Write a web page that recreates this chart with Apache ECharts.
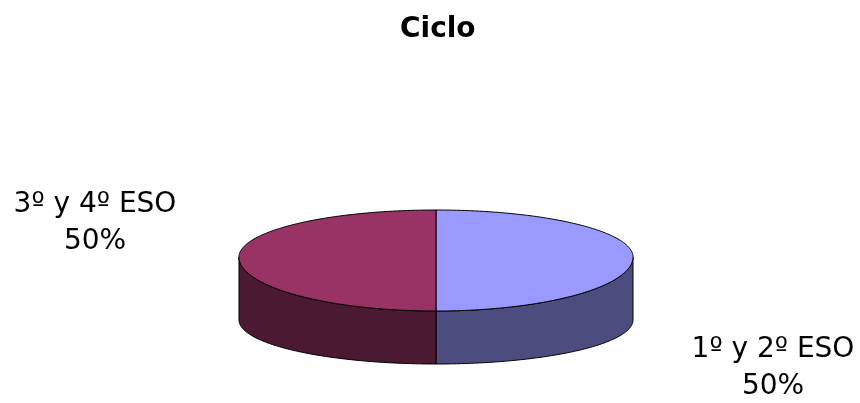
<!DOCTYPE html>
<html>
<head>
<meta charset="utf-8">
<script src="https://cdn.jsdelivr.net/npm/echarts@6/dist/echarts.min.js"></script>
<style>html,body{margin:0;padding:0;background:#fff}#c{width:860px;height:403px}</style>
</head>
<body>
<div id="c"></div>
<script>
// ---- data ----
const title = 'Ciclo';
const categories = ['1º y 2º ESO', '3º y 4º ESO'];
const values = [50, 50];

// ---- style ----
const topColors = ['#9999FF', '#993366'];
const sideColors = ['#4C4C7E', '#4C1933'];
const labelPos = [[773, 368], [95, 223]];
const FONT = 'DejaVu Sans';
const geo = { cx: 436, cyT: 257, rx: 197, ryBack: 47, ryFront: 54, cyB: 320, ryFrontB: 44 };

const total = values.reduce((a, b) => a + b, 0);
const starts = [];
values.reduce((acc, v) => { starts.push(acc); return acc + v; }, 0);

function topPt(t) {
  const c = Math.cos(t);
  return [geo.cx + geo.rx * Math.sin(t), geo.cyT - (c > 0 ? geo.ryBack : geo.ryFront) * c];
}
function botPt(t) {
  const c = Math.cos(t);
  return [geo.cx + geo.rx * Math.sin(t), geo.cyB - (c > 0 ? geo.ryBack : geo.ryFrontB) * c];
}
function arc(fn, a, b, n) {
  const pts = [];
  for (let k = 0; k <= n; k++) pts.push(fn(a + (b - a) * k / n));
  return pts;
}

const chart = echarts.init(document.getElementById('c'), null, { renderer: 'canvas' });
chart.setOption({
  backgroundColor: '#ffffff',
  animation: false,
  title: {
    text: title, left: 395, top: 11,
    textStyle: { fontFamily: FONT, fontSize: 28, fontWeight: 'bold', color: '#000' }
  },
  series: [{
    type: 'custom',
    coordinateSystem: 'none',
    data: values.map((v, i) => [v, i]),
    renderItem: function (params, api) {
      const i = params.dataIndex;
      const v = api.value(0);
      const a = starts[i] / total * Math.PI * 2;
      const b = a + v / total * Math.PI * 2;
      const children = [];
      // side face (front half only)
      const sa = Math.max(a, Math.PI / 2), sb = Math.min(b, Math.PI * 1.5);
      if (sb > sa) {
        const pts = arc(topPt, sa, sb, 120).concat(arc(botPt, sb, sa, 120));
        children.push({
          type: 'polygon', shape: { points: pts },
          style: { fill: sideColors[i], stroke: '#000', lineWidth: 1 }
        });
      }
      // top face
      const tpts = [[geo.cx, geo.cyT]].concat(arc(topPt, a, b, 240));
      children.push({
        type: 'polygon', shape: { points: tpts },
        style: { fill: topColors[i], stroke: '#000', lineWidth: 1 }
      });
      // label
      const pct = Math.round(v / total * 100) + '%';
      children.push({
        type: 'text',
        style: {
          text: categories[i] + '\n' + pct,
          x: labelPos[i][0], y: labelPos[i][1],
          align: 'center', verticalAlign: 'middle',
          fontFamily: FONT, fontSize: 28, lineHeight: 37, fill: '#000'
        }
      });
      return { type: 'group', children: children };
    }
  }]
});
</script>
</body>
</html>
